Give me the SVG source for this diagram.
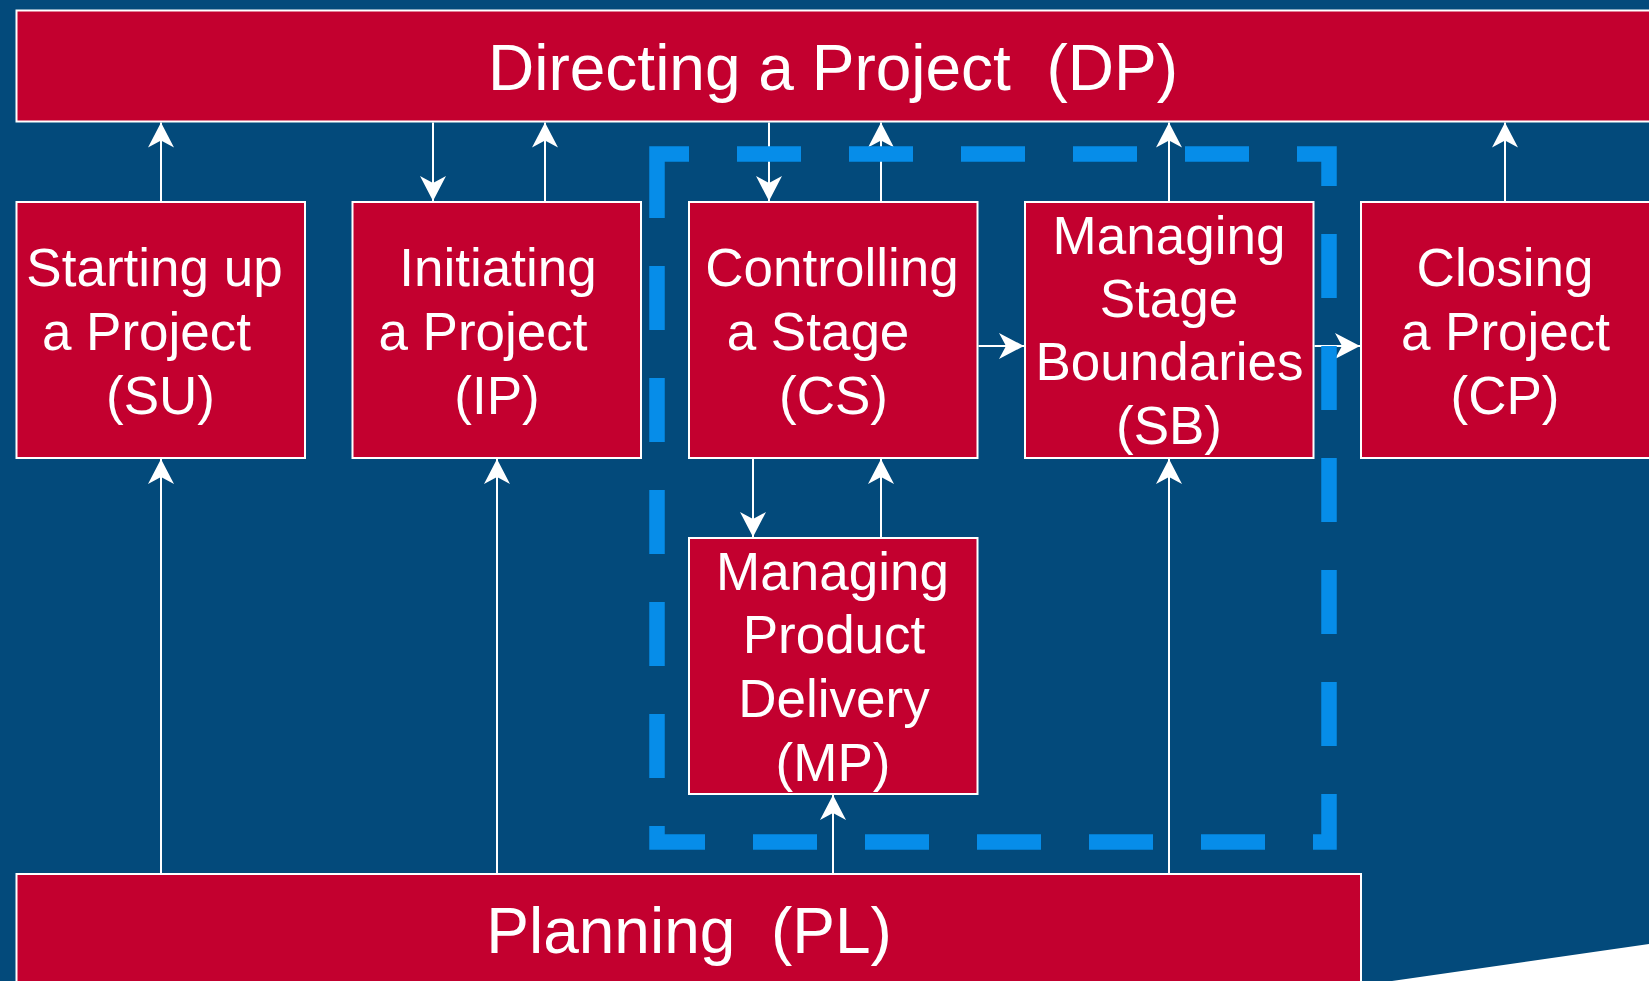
<svg xmlns="http://www.w3.org/2000/svg" width="1649" height="981" viewBox="0 0 1649 981">
<style>
.box{fill:#c3002f;stroke:#ffffff;stroke-width:2}
.t{font-family:"Liberation Sans",Arial,Helvetica,sans-serif;fill:#ffffff;text-anchor:middle}
.big{font-size:64px}
.med{font-size:53px}
.con{stroke:#ffffff;stroke-width:2;fill:none;marker-end:url(#ah)}
.dash{fill:none;stroke:#068de9;stroke-width:15.5;stroke-dasharray:64 48}
</style>
<defs>
<marker id="ah" viewBox="-27 -15 29 30" refX="0" refY="0" markerWidth="29" markerHeight="30" markerUnits="userSpaceOnUse" orient="auto">
<path d="M0,0 L-25,-13 L-18,0 L-25,13 Z" fill="#ffffff"/>
</marker>
</defs>
<rect x="0" y="0" width="1649" height="981" fill="#ffffff"/>
<polygon points="0,0 1649,0 1649,944 1392,981 0,981" fill="#034a7b"/>

<g id="DP">
<rect class="box" x="16.5" y="10.5" width="1645" height="111"/>
<text class="t big" x="833" y="89.5" xml:space="preserve">Directing a Project  (DP)</text>
</g>

<g id="SU">
<rect class="box" x="16.5" y="202" width="288.5" height="256"/>
<text class="t med" x="154.5" y="285.5">Starting up</text>
<text class="t med" x="146.5" y="350">a Project</text>
<text class="t med" x="160.5" y="413.5">(SU)</text>
</g>

<g id="IP">
<rect class="box" x="352.5" y="202" width="288.5" height="256"/>
<text class="t med" x="498" y="285.5">Initiating</text>
<text class="t med" x="483" y="350">a Project</text>
<text class="t med" x="497" y="413.5">(IP)</text>
</g>

<g id="CS">
<rect class="box" x="689" y="202" width="288.5" height="256"/>
<text class="t med" x="832" y="285.5">Controlling</text>
<text class="t med" x="818" y="349.5">a Stage</text>
<text class="t med" x="833.5" y="413.5">(CS)</text>
</g>

<g id="SB">
<rect class="box" x="1025" y="202" width="288.5" height="256"/>
<text class="t med" x="1169" y="253.5">Managing</text>
<text class="t med" x="1169" y="317">Stage</text>
<text class="t med" x="1169.5" y="380">Boundaries</text>
<text class="t med" x="1169" y="443.5">(SB)</text>
</g>

<g id="CP">
<rect class="box" x="1361" y="202" width="295" height="256"/>
<text class="t med" x="1505" y="285.5">Closing</text>
<text class="t med" x="1505.5" y="349.5">a Project</text>
<text class="t med" x="1505" y="413.5">(CP)</text>
</g>

<g id="MP">
<rect class="box" x="689" y="538" width="288.5" height="256"/>
<text class="t med" x="832.5" y="589.5">Managing</text>
<text class="t med" x="834" y="653">Product</text>
<text class="t med" x="834" y="717">Delivery</text>
<text class="t med" x="833" y="781">(MP)</text>
</g>

<g id="PL">
<rect class="box" x="16.5" y="874" width="1344.5" height="130"/>
<text class="t big" x="689" y="953" xml:space="preserve">Planning  (PL)</text>
</g>

<g id="connectors">
<line class="con" x1="161" y1="201" x2="161" y2="122.5"/>
<line class="con" x1="433" y1="122.5" x2="433" y2="201"/>
<line class="con" x1="545" y1="201" x2="545" y2="122.5"/>
<line class="con" x1="769" y1="122.5" x2="769" y2="201"/>
<line class="con" x1="881" y1="201" x2="881" y2="122.5"/>
<line class="con" x1="1169" y1="201" x2="1169" y2="122.5"/>
<line class="con" x1="1505" y1="201" x2="1505" y2="122.5"/>
<line class="con" x1="978.5" y1="346" x2="1024" y2="346"/>
<line class="con" x1="1314.5" y1="346" x2="1360" y2="346"/>
<line class="con" x1="753" y1="459" x2="753" y2="537"/>
<line class="con" x1="881" y1="537" x2="881" y2="459"/>
<line class="con" x1="161" y1="873" x2="161" y2="459"/>
<line class="con" x1="497" y1="873" x2="497" y2="459"/>
<line class="con" x1="833" y1="873" x2="833" y2="795"/>
<line class="con" x1="1169" y1="873" x2="1169" y2="459"/>
</g>

<g id="stage-boundary">
<path class="dash" d="M657,154 V842 H1329 V154 Z"/>
</g>
</svg>
